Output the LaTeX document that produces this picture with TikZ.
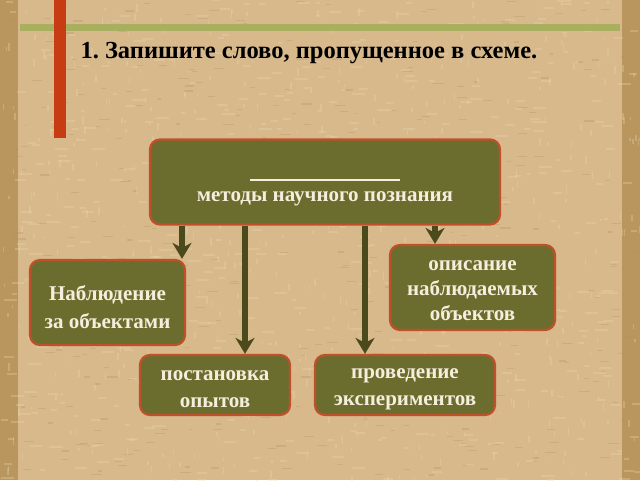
\documentclass[tikz,border=0pt]{standalone}
\usepackage{fontspec}
\setmainfont{Liberation Serif}
\usetikzlibrary{arrows.meta}
\definecolor{bgc}{HTML}{D7B98C}
\definecolor{edgec}{HTML}{B8965E}
\definecolor{lightw}{HTML}{EED9B2}
\definecolor{darkw}{HTML}{B39062}
\definecolor{boxfill}{HTML}{6B6D2F}
\definecolor{boxline}{HTML}{C0502A}
\definecolor{arrowc}{HTML}{4A4A1C}
\definecolor{barred}{HTML}{C83C14}
\definecolor{topline}{HTML}{A8B060}
\definecolor{txtc}{HTML}{F5EEDC}
\tikzset{
  box/.style={draw=boxline, line width=2.2pt, fill=boxfill, rounded corners=10pt, inner sep=0pt},
  txt/.style={text=txtc, font=\bfseries\fontsize{21}{28}\selectfont, align=center, inner sep=0pt},
  arr/.style={draw=arrowc, line width=5.5pt, -{Stealth[length=16pt,width=19pt,inset=5pt]}},
  weave/.style={line width=2pt, opacity=0.3}
}
\begin{document}
\frenchspacing
\begin{tikzpicture}[x=1pt,y=-1pt]
\useasboundingbox (0,0) rectangle (640,480);
\begin{scope}
\clip (0,0) rectangle (640,480);
\fill[bgc] (0,0) rectangle (640,480);
\fill[edgec] (0,0) rectangle (18,480);
\fill[edgec] (622,0) rectangle (640,480);
\pgfmathsetseed{11}
\foreach \i in {1,...,1400}{
  \pgfmathsetmacro{\xx}{rnd*640}
  \pgfmathsetmacro{\yy}{rnd*480}
  \pgfmathsetmacro{\ll}{4+rnd*10}
  \pgfmathsetmacro{\kk}{rnd}
  \ifdim\kk pt<0.35pt
    \draw[weave, lightw] (\xx,\yy) -- ++(\ll,0);
  \else\ifdim\kk pt<0.7pt
    \draw[weave, lightw, line width=1.5pt] (\xx,\yy) -- ++(0,\ll*0.6);
  \else
    \draw[weave, darkw, line width=1.2pt] (\xx,\yy) -- ++(\ll*0.8,0);
  \fi\fi
}
\end{scope}
\fill[topline] (20,24) rectangle (620,31);
\fill[barred] (54,0) rectangle (66,138);
\node[anchor=base west, font=\bfseries\fontsize{24.5}{28}\selectfont, text=black] (title) at (77,58) {1. Запишите слово, пропущенное в схеме.};
\node[box, minimum width=350pt, minimum height=85pt] (top) at (325,182) {};
\draw[txtc, line width=1.2pt] (250,180) -- (400,180);
\node[txt, anchor=base] (topt) at (325,201) {методы научного познания};
\node[box, minimum width=155pt, minimum height=85pt] (obs) at (107.5,302.5) {};
\node[txt] (obst) at (107.5,307) {Наблюдение\\за объектами};
\node[box, minimum width=165pt, minimum height=85pt] (desc) at (472.5,287.5) {};
\node[txt, font=\bfseries\fontsize{21}{25}\selectfont] (desct) at (472.5,291) {описание\\наблюдаемых\\объектов};
\node[box, minimum width=150pt, minimum height=60pt] (exp1) at (215,385) {};
\node[txt, font=\bfseries\fontsize{21}{27}\selectfont] (exp1t) at (215,389) {постановка\\опытов};
\node[box, minimum width=180pt, minimum height=60pt] (exp2) at (405,385) {};
\node[txt, font=\bfseries\fontsize{21}{27}\selectfont] (exp2t) at (405,389) {проведение\\экспериментов};
\draw[arr] (top.south -| 182,0) -- (obs.north -| 182,0);
\draw[arr] (top.south -| 245,0) -- (exp1.north -| 245,0);
\draw[arr] (top.south -| 365,0) -- (exp2.north -| 365,0);
\draw[arr] (top.south -| 435,0) -- (desc.north -| 435,0);
\end{tikzpicture}
\end{document}
